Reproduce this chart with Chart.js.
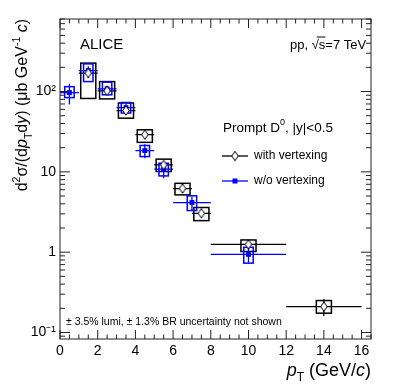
<!DOCTYPE html>
<html>
<head>
<meta charset="utf-8">
<script src="https://cdn.jsdelivr.net/npm/chart.js@4.4.1/dist/chart.umd.min.js"></script>
<style>
  html, body { margin: 0; padding: 0; background: #fff; }
  canvas { display: block; }
</style>
</head>
<body>
<canvas id="chart" width="399" height="387"></canvas>
<script>
/* Prompt D0, with vertexing (black) */
const vtxX = [1.5, 2.5, 3.5, 4.5, 5.5, 6.5, 7.5, 10, 14];
const vtxBinLo = [1, 2, 3, 4, 5, 6, 7, 8, 12];
const vtxBinHi = [2, 3, 4, 5, 6, 7, 8, 12, 16];
const vtxY = [170, 102, 58, 29, 12.2, 6.2, 3.05, 1.25, 0.21];
const vtxStat = [20, 10, 5, 2.5, 1.0, 0.5, 0.3, 0.1, 0.05];
const vtxSysLo = [82, 81, 46.6, 23.3, 10.1, 5.17, 2.47, 1.02, 0.174];
const vtxSysHi = [226, 133, 72, 33.4, 14.4, 7.2, 3.6, 1.42, 0.25];

/* Prompt D0, w/o vertexing (blue) */
const novtxX = [0.5, 1.5, 2.5, 3.5, 4.5, 5.5, 7, 10];
const novtxBinLo = [0, 1, 2, 3, 4, 5, 6, 8];
const novtxBinHi = [1, 2, 3, 4, 5, 6, 8, 12];
const novtxY = [97, 182, 108, 63, 18.4, 10.8, 4.15, 0.94];
const novtxStat = [28, 25, 9, 7, 3.6, 2.5, 0.8, 0.2];
const novtxSysLo = [84, 133, 91, 54, 15.5, 8.9, 3.3, 0.73];
const novtxSysHi = [115, 221, 131, 73, 21.3, 12.8, 5.03, 1.15];

/* Axes */
const xTickValues = [0, 2, 4, 6, 8, 10, 12, 14, 16];
const yTickValues = [0.1, 1, 10, 100];
const yTickLabels = ["10⁻¹", "1", "10", "10²"];

const FONT = "'Liberation Sans', Arial, Helvetica, sans-serif";
const BLUE = "#0000ff";

Chart.defaults.font.family = FONT;
Chart.defaults.color = "#000";

/* open diamond marker */
const diamond = document.createElement("canvas");
diamond.width = 8;
diamond.height = 11;
(() => {
    const c = diamond.getContext("2d");
    c.beginPath();
    c.moveTo(4, 0.8);
    c.lineTo(7.2, 5.5);
    c.lineTo(4, 10.2);
    c.lineTo(0.8, 5.5);
    c.closePath();
    c.fillStyle = "#fff";
    c.fill();
    c.strokeStyle = "#000";
    c.lineWidth = 1;
    c.stroke();
})();

const vtxSet = { x: vtxX, y: vtxY, lo: vtxBinLo, hi: vtxBinHi, stat: vtxStat, sysLo: vtxSysLo, sysHi: vtxSysHi };
const novtxSet = { x: novtxX, y: novtxY, lo: novtxBinLo, hi: novtxBinHi, stat: novtxStat, sysLo: novtxSysLo, sysHi: novtxSysHi };

function drawBoxes(ctx, sx, sy, d, color, half) {
    ctx.strokeStyle = color;
    ctx.lineWidth = 1.5;
    d.x.forEach((xv, i) => {
        const l = sx.getPixelForValue(xv - half), r = sx.getPixelForValue(xv + half);
        const t = sy.getPixelForValue(d.sysHi[i]), b = sy.getPixelForValue(d.sysLo[i]);
        ctx.strokeRect(l, t, r - l, b - t);
    });
}

function drawErrors(ctx, sx, sy, d, color) {
    ctx.strokeStyle = color;
    ctx.lineWidth = 1.3;
    d.x.forEach((xv, i) => {
        const px = sx.getPixelForValue(xv), py = sy.getPixelForValue(d.y[i]);
        ctx.beginPath();
        ctx.moveTo(sx.getPixelForValue(d.lo[i]), py);
        ctx.lineTo(sx.getPixelForValue(d.hi[i]), py);
        ctx.moveTo(px, sy.getPixelForValue(d.y[i] + d.stat[i]));
        ctx.lineTo(px, sy.getPixelForValue(d.y[i] - d.stat[i]));
        ctx.stroke();
    });
}

/* text made of pieces with different fonts / offsets */
function richWidth(ctx, parts) {
    return parts.reduce((w, p) => { ctx.font = p.font; return w + ctx.measureText(p.t).width; }, 0);
}
function drawRich(ctx, parts, x, y) {
    let cx = x;
    parts.forEach(p => {
        ctx.font = p.font;
        ctx.fillText(p.t, cx, y + (p.dy || 0));
        cx += ctx.measureText(p.t).width;
    });
}

function line(ctx, x1, y1, x2, y2) {
    ctx.beginPath();
    ctx.moveTo(x1, y1);
    ctx.lineTo(x2, y2);
    ctx.stroke();
}

const rootStyle = {
    id: "rootStyle",
    beforeDatasetsDraw(chart) {
        const { ctx, chartArea: a, scales: { x, y } } = chart;
        ctx.save();
        ctx.beginPath();
        ctx.rect(a.left, a.top, a.right - a.left, a.bottom - a.top);
        ctx.clip();
        drawBoxes(ctx, x, y, vtxSet, "#000", 0.4);
        drawErrors(ctx, x, y, vtxSet, "#000");
        drawBoxes(ctx, x, y, novtxSet, BLUE, 0.25);
        drawErrors(ctx, x, y, novtxSet, BLUE);
        ctx.restore();
    },
    afterDraw(chart) {
        const { ctx, chartArea: a, scales: { x, y } } = chart;
        ctx.save();

        /* frame and inward ticks */
        ctx.strokeStyle = "#222";
        ctx.lineWidth = 1;
        ctx.strokeRect(a.left, a.top, a.right - a.left, a.bottom - a.top);
        for (let e = -2; e <= 3; e++) {
            for (let m = 1; m <= 9; m++) {
                const v = m * Math.pow(10, e);
                if (v < y.min || v > y.max) continue;
                const p = y.getPixelForValue(v), len = m === 1 ? 10 : 5;
                line(ctx, a.left, p, a.left + len, p);
                line(ctx, a.right, p, a.right - len, p);
            }
        }
        for (let v = 0; v <= x.max; v += 0.5) {
            const p = x.getPixelForValue(v), len = v % 2 === 0 ? 9 : 4.5;
            line(ctx, p, a.bottom, p, a.bottom - len);
            line(ctx, p, a.top, p, a.top + len);
        }

        ctx.fillStyle = "#000";
        ctx.textBaseline = "middle";
        ctx.textAlign = "left";

        /* labels */
        ctx.font = "15px " + FONT;
        ctx.fillText("ALICE", 80, 45);

        ctx.font = "13px " + FONT;
        let px = 290;
        ctx.fillText("pp, ", px, 45);
        px += ctx.measureText("pp, ").width;
        ctx.fillText("√", px, 45);
        px += ctx.measureText("√").width;
        const sw = ctx.measureText("s").width;
        ctx.fillText("s=7 TeV", px, 45);
        ctx.lineWidth = 1;
        ctx.strokeStyle = "#000";
        line(ctx, px - 2, 37, px + sw, 37);

        ctx.font = "10.5px " + FONT;
        ctx.fillText("± 3.5% lumi, ± 1.3% BR uncertainty not shown", 66, 322);

        /* legend */
        drawRich(ctx, [
            { t: "Prompt D", font: "13.5px " + FONT },
            { t: "0", font: "9px " + FONT, dy: -5 },
            { t: ", |y|<0.5", font: "13.5px " + FONT }
        ], 223, 128);

        ctx.strokeStyle = "#000";
        ctx.lineWidth = 1.3;
        line(ctx, 222, 156, 248, 156);
        line(ctx, 235, 152, 235, 160);
        ctx.drawImage(diamond, 231, 150.5);
        ctx.font = "12px " + FONT;
        ctx.fillText("with vertexing", 254, 156);

        ctx.strokeStyle = BLUE;
        line(ctx, 222, 181, 248, 181);
        ctx.fillStyle = BLUE;
        ctx.fillRect(232.5, 178.5, 5, 5);
        ctx.fillStyle = "#000";
        ctx.fillText("w/o vertexing", 254, 181);

        /* x title */
        ctx.textBaseline = "alphabetic";
        const xt = [
            { t: "p", font: "italic 18px " + FONT },
            { t: "T", font: "12px " + FONT, dy: 5 },
            { t: " (GeV/", font: "18px " + FONT },
            { t: "c", font: "italic 18px " + FONT },
            { t: ")", font: "18px " + FONT }
        ];
        drawRich(ctx, xt, a.right - richWidth(ctx, xt), 376);

        /* y title */
        const yt = [
            { t: "d", font: "16px " + FONT },
            { t: "2", font: "10.5px " + FONT, dy: -7 },
            { t: "σ/(d", font: "16px " + FONT },
            { t: "p", font: "italic 16px " + FONT },
            { t: "T", font: "10.5px " + FONT, dy: 5 },
            { t: "d", font: "16px " + FONT },
            { t: "y", font: "italic 16px " + FONT },
            { t: ") (μb GeV", font: "16px " + FONT },
            { t: "-1", font: "10.5px " + FONT, dy: -7 },
            { t: " ", font: "16px " + FONT },
            { t: "c", font: "italic 16px " + FONT },
            { t: ")", font: "16px " + FONT }
        ];
        ctx.translate(27, a.top);
        ctx.rotate(-Math.PI / 2);
        drawRich(ctx, yt, -richWidth(ctx, yt), 0);

        ctx.restore();
    }
};

new Chart(document.getElementById("chart"), {
    type: "scatter",
    data: {
        datasets: [
            {
                label: "with vertexing",
                data: vtxX.map((v, i) => ({ x: v, y: vtxY[i] })),
                pointStyle: diamond,
                pointRadius: 4
            },
            {
                label: "w/o vertexing",
                data: novtxX.map((v, i) => ({ x: v, y: novtxY[i] })),
                pointStyle: "rect",
                pointRadius: 3.5,
                backgroundColor: BLUE,
                borderColor: BLUE,
                borderWidth: 0
            }
        ]
    },
    options: {
        responsive: false,
        animation: false,
        devicePixelRatio: 1,
        layout: { padding: { top: 19, right: 28, left: 0, bottom: 0 } },
        plugins: { legend: { display: false }, tooltip: { enabled: false } },
        scales: {
            x: {
                type: "linear",
                min: 0,
                max: 16.5,
                grid: { display: false, drawTicks: false },
                border: { display: false },
                afterBuildTicks: s => { s.ticks = xTickValues.map(v => ({ value: v })); },
                afterFit: s => { s.height = 48; },
                ticks: { padding: 4, maxRotation: 0, autoSkip: false, font: { size: 14 }, color: "#000" }
            },
            y: {
                type: "logarithmic",
                min: 0.083,
                max: 800,
                grid: { display: false, drawTicks: false },
                border: { display: false },
                afterBuildTicks: s => { s.ticks = yTickValues.map(v => ({ value: v })); },
                afterFit: s => { s.width = 60; },
                ticks: {
                    padding: 4,
                    autoSkip: false,
                    font: { size: 14 },
                    color: "#000",
                    callback: v => yTickLabels[yTickValues.indexOf(v)]
                }
            }
        }
    },
    plugins: [rootStyle]
});
</script>
</body>
</html>
